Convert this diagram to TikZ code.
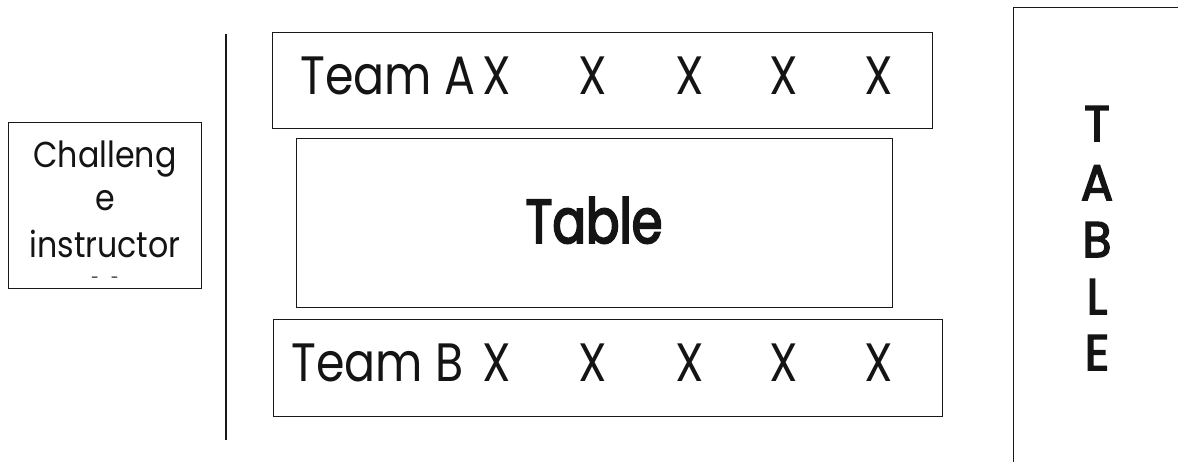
\documentclass[tikz,border=0pt]{standalone}
\usepackage{fontspec}
\setmainfont{Poppins}
\newfontfamily\teamfont[FakeStretch=0.85]{Poppins}
\newfontfamily\chalfont[FakeStretch=0.88]{Poppins}
\newfontfamily\tabfont{Poppins}[FakeStretch=0.8,FakeBold=3]
\newfontfamily\letfont{Poppins}[FakeStretch=0.95,FakeBold=3]
\begin{document}
\begin{tikzpicture}[x=1pt,y=-1pt,
  box/.style={draw=black!90, line width=1.1pt, inner sep=0pt, anchor=north west},
  teamtxt/.style={anchor=base west, inner sep=0pt, text=black!92, font=\teamfont\fontsize{54}{60}\selectfont},
  xmark/.style={anchor=base, inner sep=0pt, text=black!92, font=\teamfont\fontsize{54}{60}\selectfont},
  chaltxt/.style={anchor=base, inner sep=0pt, text=black!92, font=\chalfont\fontsize{36}{40}\selectfont},
  bigtxt/.style={anchor=base, inner sep=0pt, text=black!92, font=\tabfont\fontsize{62}{66}\selectfont},
  lettxt/.style={anchor=base, inner sep=0pt, text=black!92, font=\letfont\fontsize{50}{54}\selectfont}
]
\useasboundingbox (0,0) rectangle (1178,461);
\clip (0,0) rectangle (1178,461);
\fill[white] (0,0) rectangle (1178,461);

% Challenge instructor box
\node[box, minimum width=193pt, minimum height=166pt] (chal) at (8,122) {};
\node[chaltxt] (c1) at (105,167) {Challeng};
\node[chaltxt] (c2) at (105,210) {e};
\node[chaltxt] (c3) at (105,257) {instructor};
\node[anchor=base, inner sep=0pt, text=black!85, font=\chalfont\fontsize{16}{18}\selectfont] (c4) at (105,283) {-\hspace{12pt}-};

% vertical divider
\coordinate (vtop) at (226,34);
\coordinate (vbot) at (226,440);
\draw[line width=1.1pt, black!90] (vtop) -- (vbot);

% Team A
\node[box, minimum width=660pt, minimum height=96pt] (teamA) at (272,32) {};
\node[teamtxt] (ta) at (300,94) {Team A};
\foreach \x [count=\i] in {497,593,690,784,879} {
  \node[xmark] (xa\i) at (\x,94) {X};
}

% Table
\node[box, minimum width=596pt, minimum height=169pt] (table) at (296,138) {};
\node[bigtxt] (tabtxt) at (594,243) {Table};

% Team B
\node[box, minimum width=669pt, minimum height=97pt] (teamB) at (273,319) {};
\node[teamtxt] (tb) at (291,381) {Team B};
\foreach \x [count=\i] in {497,593,690,784,879} {
  \node[xmark] (xb\i) at (\x,381) {X};
}

% right TABLE
\node[box, minimum width=260pt, minimum height=520pt] (rtable) at (1013,7) {};
\foreach \l/\y [count=\i] in {T/141,A/200,B/257,L/314,E/370} {
  \node[lettxt] (l\i) at (1097,\y) {\l};
}
\end{tikzpicture}
\end{document}
